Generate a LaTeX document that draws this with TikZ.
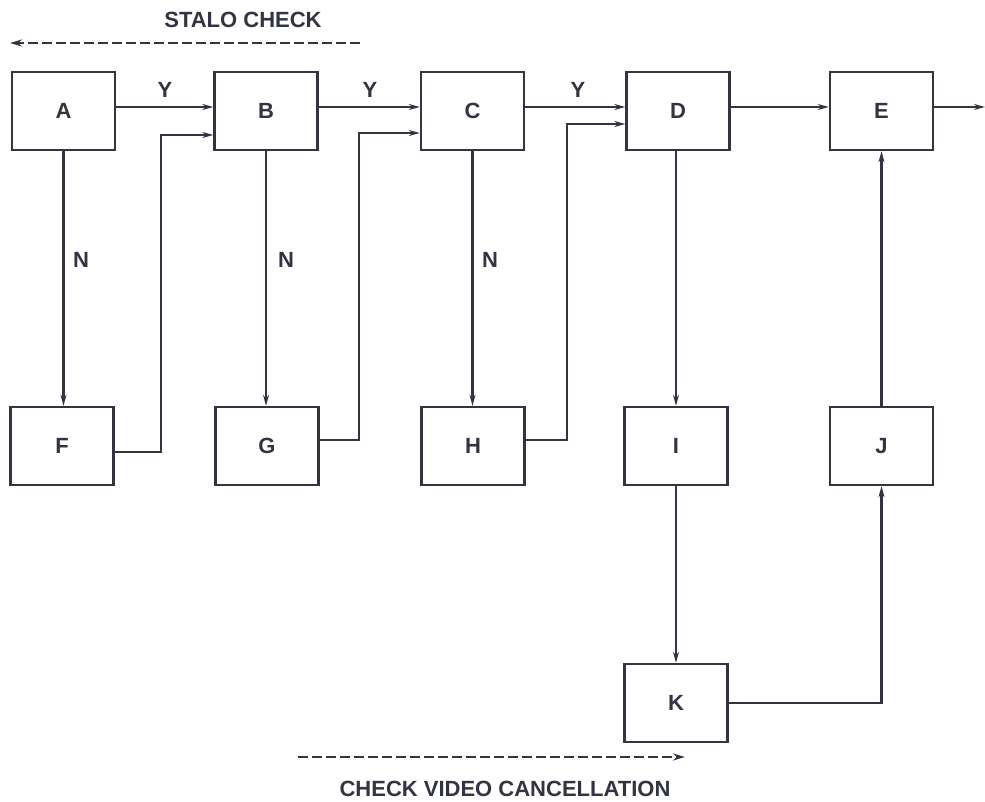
\documentclass[tikz,border=0pt]{standalone}
\usepackage{fontspec}
\setmainfont{Liberation Sans}
\usetikzlibrary{arrows.meta,calc}
\definecolor{lc}{RGB}{50,52,66}
\begin{document}
\begin{tikzpicture}[x=1pt,y=-1pt,
  font=\fontsize{22}{26}\selectfont\bfseries,
  every node/.style={text=lc},
  blk/.style={draw=lc,line width=2.4pt,minimum width=103pt,minimum height=78pt,inner sep=0pt},
  conn/.style={draw=lc,line width=2.2pt},
  arr/.style={conn,-{Stealth[length=11pt,width=6pt]}},
  dsh/.style={draw=lc,line width=2.6pt,dash pattern=on 10pt off 4pt},
  lbl/.style={inner sep=0pt}]
\useasboundingbox (0,0) rectangle (985,802);
% boxes
\node[blk] (A) at (63.5,111) {A};
\node[blk] (B) at (266,111) {B};
\node[blk] (C) at (472.5,111) {C};
\node[blk] (D) at (678,111) {D};
\node[blk] (E) at (881.5,111) {E};
\node[blk] (F) at (62,446) {F};
\node[blk] (G) at (267,446) {G};
\node[blk] (H) at (473,446) {H};
\node[blk] (I) at (676,446) {I};
\node[blk] (J) at (881.5,446) {J};
\node[blk] (K) at (676,703) {K};
\coordinate (out) at (985,107);
% top row
\draw[arr] ([yshift=4pt]A.east) -- ([yshift=4pt]B.west);
\draw[arr] ([yshift=4pt]B.east) -- ([yshift=4pt]C.west);
\draw[arr] ([yshift=4pt]C.east) -- ([yshift=4pt]D.west);
\draw[arr] ([yshift=4pt]D.east) -- ([yshift=4pt]E.west);
\draw[arr] ([yshift=4pt]E.east) -- (out);
\node[lbl] (y1) at (165,90) {Y};
\node[lbl] (y2) at (370,90) {Y};
\node[lbl] (y3) at (578,90) {Y};
% N branches
\draw[arr] (A.south) -- (A.south |- F.north);
\draw[arr] (B.south) -- (B.south |- G.north);
\draw[arr] (C.south) -- (C.south |- H.north);
\node[lbl] (n1) at (81,260) {N};
\node[lbl] (n2) at (286,260) {N};
\node[lbl] (n3) at (490,260) {N};
% feedback
\draw[arr] ([yshift=-6pt]F.east) -| ($([yshift=-24pt]B.west)+(-52,0)$) -- ([yshift=-24pt]B.west);
\draw[arr] ([yshift=6pt]G.east) -| ($([yshift=-22pt]C.west)+(-61,0)$) -- ([yshift=-22pt]C.west);
\draw[arr] ([yshift=6pt]H.east) -| ($([yshift=-13pt]D.west)+(-58.5,0)$) -- ([yshift=-13pt]D.west);
% D path
\draw[arr] (D.south -| I.north) -- (I.north);
\draw[arr] (I.south) -- (K.north);
\draw[arr] (K.east) -| (J.south);
\draw[arr] (J.north) -- (E.south);
% dashed annotations
\coordinate (s1) at (360,43);
\coordinate (s2) at (10,43);
\draw[dsh,-{Stealth[length=12pt,width=7pt]}] (s1) -- (s2);
\node[lbl] (stalo) at (243,20) {STALO CHECK};
\coordinate (c1) at (298,757);
\coordinate (c2) at (685,757);
\draw[dsh,-{Stealth[length=12pt,width=7pt]}] (c1) -- (c2);
\node[lbl] (cvc) at (505,789) {CHECK VIDEO CANCELLATION};
\end{tikzpicture}
\end{document}
